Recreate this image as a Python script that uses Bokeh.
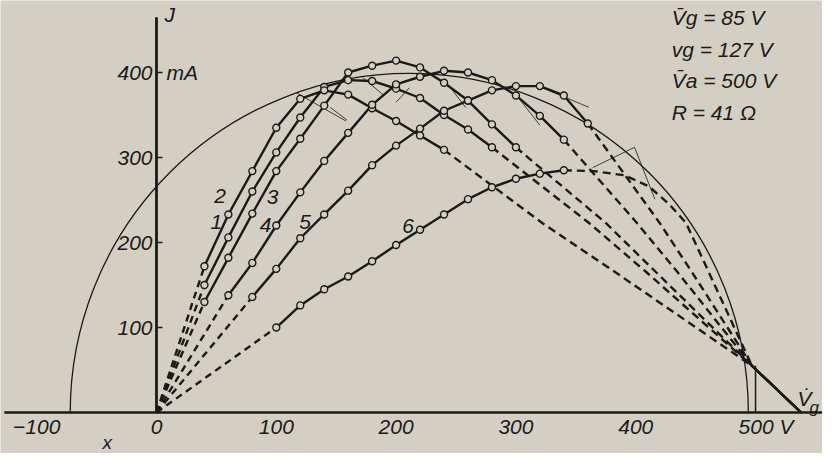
import math
from bokeh.plotting import figure
from bokeh.models import Range1d
from bokeh.core.properties import value
from bokeh.embed import file_html
from bokeh.resources import INLINE

BG = "#d4cfc3"
INK = "#1b1a18"
FONT = "Liberation Sans"

# ---------------- data (V in volts, J in mA) ----------------
c1_v = [40, 60, 80, 100, 120, 140, 160, 180, 200, 220, 240, 260, 280]
c1_j = [150, 206, 260, 306, 347, 383, 391, 390, 381, 370, 350, 333, 312]
c2_v = [40, 60, 80, 100, 120, 140, 160, 180, 200, 220, 240]
c2_j = [172, 233, 284, 335, 369, 379, 374, 358, 343, 326, 309]
c3_v = [40, 60, 80, 100, 120, 140, 160, 180, 200, 220, 240, 260, 280, 300]
c3_j = [130, 182, 234, 284, 322, 361, 400, 408, 414, 406, 388, 367, 339, 312]
c4_v = [60, 80, 100, 120, 140, 160, 180, 200, 220, 240, 260, 280, 300, 320, 340]
c4_j = [138, 176, 220, 259, 296, 329, 362, 386, 395, 402, 400, 391, 373, 349, 321]
c5_v = [80, 100, 120, 140, 160, 180, 200, 220, 240, 260, 280, 300, 320, 340, 360]
c5_j = [136, 169, 205, 233, 261, 291, 314, 334, 355, 367, 379, 384, 384, 373, 340]
c6_v = [100, 120, 140, 160, 180, 200, 220, 240, 260, 280, 300, 320, 340]
c6_j = [100, 126, 145, 160, 178, 197, 215, 233, 251, 265, 275, 281, 285]

# dashed continuations (extrapolated parts) down to the common point
c1_tail_v = [361, 409, 497]
c1_tail_j = [223, 165, 55]
c2_tail_v = [322, 383, 497]
c2_tail_j = [223, 165, 55]
c3_tail_v = [375, 417, 497]
c3_tail_j = [223, 165, 55]
c4_tail_v = [401, 435, 497]
c4_tail_j = [223, 165, 55]
c5_tail_v = [420, 447, 497]
c5_tail_j = [223, 165, 55]
c6_tail_v = [365, 391, 411, 428, 442, 461, 497]
c6_tail_j = [284, 279, 266, 245, 223, 165, 55]
end_v = [538]
end_j = [0]

curve_labels = ["1", "2", "3", "4", "5", "6"]
label_v = [50, 53, 97, 91, 124, 210]
label_j = [224, 255, 253, 221, 224, 220]

# construction (tangent) lines
thin_v0 = [117, 145, 172, 200, 247, 299, 322, 364, 399]
thin_j0 = [376, 359, 394, 365, 379, 376, 382, 288, 312]
thin_v1 = [158, 159, 189, 211, 258, 320, 361, 399, 416]
thin_j1 = [343, 344, 374, 382, 359, 338, 359, 312, 251]

circle_center_v = 211
circle_radius_v = 283

x_ticks = [-100, 0, 100, 200, 300, 400]
x_tick_labels = ["\u2212100", "0", "100", "200", "300", "400"]
y_ticks = [100, 200, 300, 400]
y_tick_labels = ["100", "200", "300", "400"]

params = ["V\u0304g = 85 V", "vg = 127 V", "V\u0304a = 500 V", "R = 41 \u03a9"]
params_j = [465, 427, 391, 353]

# ---------------- figure ----------------
p = figure(width=822, height=453, output_backend="svg", toolbar_location=None,
           x_range=Range1d(-130.2, 555.9), y_range=Range1d(-48.2, 484.7),
           x_axis_location=None, y_axis_location=None, min_border=0)
p.grid.visible = False
p.outline_line_color = None
p.background_fill_color = BG
p.border_fill_color = BG


def txt(x, y, t, size="21px", align="left", baseline="middle", xo=0, yo=0):
    p.text(x=x, y=y, text=t, text_font=value(FONT), text_font_style="italic",
           text_font_size=size, text_color=INK, text_align=align,
           text_baseline=baseline, x_offset=xo, y_offset=yo)


# semicircle
p.arc(x=[circle_center_v], y=[0], radius=circle_radius_v, start_angle=0,
      end_angle=math.pi, line_color=INK, line_width=1.3)

# axes
p.line(x=[-127, 560], y=[0, 0], line_color=INK, line_width=2.6)
p.line(x=[0, 0], y=[0, 465], line_color=INK, line_width=2.8)
p.segment(x0=[0] * len(y_ticks), y0=y_ticks, x1=[5] * len(y_ticks), y1=y_ticks,
          line_color=INK, line_width=1.5)
p.line(x=[500, 500], y=[0, 55], line_color=INK, line_width=1.5)

# thin construction lines
p.segment(x0=thin_v0, y0=thin_j0, x1=thin_v1, y1=thin_j1, line_color=INK,
          line_width=1.0, line_alpha=0.8)

curves = [(c1_v, c1_j, c1_tail_v, c1_tail_j), (c2_v, c2_j, c2_tail_v, c2_tail_j),
          (c3_v, c3_j, c3_tail_v, c3_tail_j), (c4_v, c4_j, c4_tail_v, c4_tail_j),
          (c5_v, c5_j, c5_tail_v, c5_tail_j), (c6_v, c6_j, c6_tail_v, c6_tail_j)]

for cv, cj, tv, tj in curves:
    # dashed from origin to first measured point
    p.line(x=[0, cv[0]], y=[0, cj[0]], line_color=INK, line_width=2.4, line_dash="7 5")
    # dashed tail
    p.line(x=[cv[-1]] + tv, y=[cj[-1]] + tj, line_color=INK, line_width=2.4, line_dash="8 5")
    # final bundle to the axis
    p.line(x=[tv[-1]] + end_v, y=[tj[-1]] + end_j, line_color=INK, line_width=2.2)
    # measured part
    p.line(x=cv, y=cj, line_color=INK, line_width=2.4)

for cv, cj, tv, tj in curves:
    p.scatter(x=cv, y=cj, marker="circle", size=7, fill_color=BG, line_color=INK,
              line_width=1.4)

# texts
txt(label_v, label_j, curve_labels, align="center")
txt(x_ticks, [-17] * len(x_ticks), x_tick_labels, align="center")
txt([500], [-17], ["500 V"], align="left", xo=-17)
txt([0] * len(y_ticks), y_ticks, y_tick_labels, align="right", xo=-4)
txt([0], [400], ["mA"], align="left", xo=10)
txt([0], [468], ["J"], align="left", xo=8)
txt([-41], [-35], ["x"], align="center", size="19px")
txt([535], [17], ["V\u0307"], align="left")
txt([545], [6], ["g"], align="left", size="17px")
txt([430] * len(params), params_j, params, align="left")

open("out.html", "w").write(file_html(p, INLINE))
